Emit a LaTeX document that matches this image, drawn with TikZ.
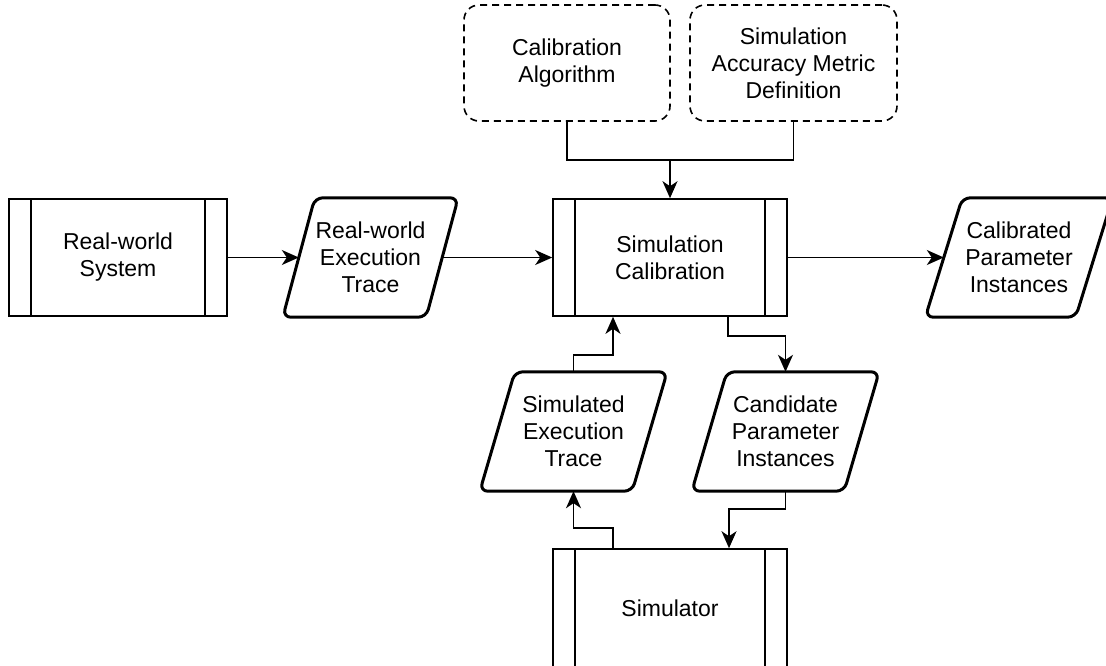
\documentclass[tikz,border=0pt]{standalone}
\usepackage{fontspec}
\setmainfont{Liberation Sans}
\usetikzlibrary{arrows.meta,calc}

\tikzset{
  procbox/.style={draw, line width=1.6pt, minimum width=#1, minimum height=117, inner sep=0pt, align=center},
  inbox/.style={draw, line width=1.6pt, dash pattern=on 7pt off 5pt, rounded corners=15pt,
                minimum width=#1, minimum height=116, inner sep=0pt, align=center},
  databox/.style={minimum width=#1, minimum height=119, inner sep=0pt, align=center},
  paraline/.style={line width=3pt, rounded corners=8pt, line join=round},
  link/.style={line width=1.5pt},
  arr/.style={link, -{Stealth[length=17pt, width=15pt, inset=5pt]}},
}

% slanted data shape drawn around a text node: #1 node name, #2 slant
\newcommand\slantshape[2]{%
  \draw[paraline] ([xshift=#2]#1.north west) -- (#1.north east)
    -- ([xshift=-#2]#1.south east) -- (#1.south west) -- cycle;}
% inner bars of a predefined-process box
\newcommand\procbars[1]{%
  \draw[line width=1.6pt] ([xshift=23pt]#1.north west) -- ([xshift=23pt]#1.south west);
  \draw[line width=1.6pt] ([xshift=-23pt]#1.north east) -- ([xshift=-23pt]#1.south east);}

\begin{document}
\begin{tikzpicture}[x=1pt, y=-1pt, font=\fontsize{23}{27}\selectfont]
\useasboundingbox (0,0) rectangle (1106,665);

% inputs of the calibration step
\node[inbox=206] (alg) at (567,63) {Calibration\\Algorithm};
\node[inbox=207] (acc) at (793.5,63) {Simulation\\Accuracy Metric\\Definition};

% middle row
\node[procbox=218] (sys) at (118,257.5) {Real-world\\System};
\procbars{sys}
\node[databox=175] (trace) at (370.5,257.5) {Real-world\\Execution\\Trace};
\slantshape{trace}{32pt}
\node[procbox=234] (cal) at (670,257.5) {Simulation\\Calibration};
\procbars{cal}
\node[databox=187] (calib) at (1019,257.5) {Calibrated\\Parameter\\Instances};
\slantshape{calib}{37pt}

% simulation loop
\node[databox=187] (simtr) at (573.5,431.5) {Simulated\\Execution\\Trace};
\slantshape{simtr}{35pt}
\node[databox=187] (cand) at (785.5,431.5) {Candidate\\Parameter\\Instances};
\slantshape{cand}{35pt}
\node[procbox=234, minimum height=118] (sim) at (670,608) {Simulator};
\procbars{sim}

% connection points on the slanted sides
\coordinate (trace-w) at ($(trace.west)+(16,0)$);
\coordinate (trace-e) at ($(trace.east)+(-16,0)$);
\coordinate (calib-w) at ($(calib.west)+(18.5,0)$);
\coordinate (join) at (670,160);

% connectors
\draw[link] (alg.south) |- (join) -| (acc.south);
\draw[arr] (join) -- (cal.north);
\draw[arr] (sys.east) -- (trace-w);
\draw[arr] (trace-e) -- (cal.west);
\draw[arr] (cal.east) -- (calib-w);
\draw[arr] (simtr.north) -- ++(0,-17) -| ($(cal.south)+(-57,0)$);
\draw[arr] ($(cal.south)+(58,0)$) -- ++(0,19) -| (cand.north);
\draw[arr] (cand.south) -- ++(0,18) -| ($(sim.north)+(59,0)$);
\draw[arr] ($(sim.north)+(-57,0)$) -- ++(0,-20) -| (simtr.south);
\end{tikzpicture}
\end{document}
